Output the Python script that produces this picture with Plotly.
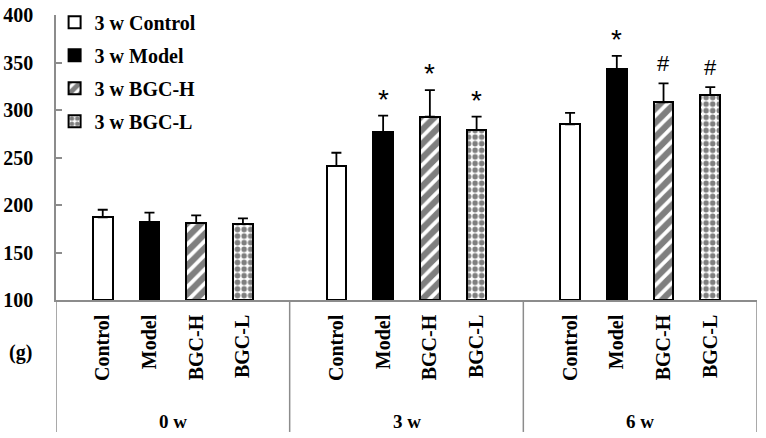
import plotly.graph_objects as go

groups = ["0 w", "3 w", "6 w"]
treatments = ["Control", "Model", "BGC-H", "BGC-L"]
legend_names = ["3 w Control", "3 w Model", "3 w BGC-H", "3 w BGC-L"]

# mean body weight (g) per treatment, one value per group (0 w, 3 w, 6 w)
control_mean = [187, 241, 285]
model_mean = [182, 277, 343]
bgch_mean = [181, 293, 308]
bgcl_mean = [180, 279, 316]

control_err = [8, 14, 12]
model_err = [10, 17, 14]
bgch_err = [8, 28, 20]
bgcl_err = [6, 14, 8]

control_sig = ["", "", ""]
model_sig = ["", "*", "*"]
bgch_sig = ["", "*", "#"]
bgcl_sig = ["", "*", "#"]

y_ticks = [100, 150, 200, 250, 300, 350, 400]

means = [control_mean, model_mean, bgch_mean, bgcl_mean]
errs = [control_err, model_err, bgch_err, bgcl_err]
sigs = [control_sig, model_sig, bgch_sig, bgcl_sig]

SLOTS = 5  # slots per group on the numeric x axis
def xpos(g, i):
    return g * SLOTS + 1 + i

styles = [
    dict(color="white", pattern=dict(shape="")),
    dict(color="black", pattern=dict(shape="")),
    dict(color="white", pattern=dict(shape="/", fgcolor="black", bgcolor="white", size=10, solidity=0.62)),
    dict(color="white", pattern=dict(shape=".", fgcolor="black", bgcolor="white", size=6.6, solidity=0.55)),
]

SERIF = "Liberation Serif"
fig = go.Figure()
for i, t in enumerate(treatments):
    xs = [xpos(g, i) for g in range(len(groups))]
    fig.add_trace(go.Bar(
        x=xs, y=[m - 100 for m in means[i]], base=100,
        name=legend_names[i], legendgroup=legend_names[i],
        width=0.42,
        marker=dict(color=styles[i]["color"], pattern=styles[i]["pattern"],
                    line=dict(color="black", width=2)),
        error_y=dict(type="data", symmetric=False, array=errs[i],
                     arrayminus=[0] * len(groups), color="black",
                     thickness=1.8, width=5),
    ))
    for g in range(len(groups)):
        s = sigs[i][g]
        if s:
            fig.add_annotation(
                x=xpos(g, i), y=means[i][g] + errs[i][g], text=s,
                showarrow=False, yanchor="bottom",
                yshift=-1 if s == "*" else 5,
                font=dict(family="Liberation Sans", size=28 if s == "*" else 22, color="black"),
            )

# category tick labels
tickvals = [xpos(g, i) for g in range(len(groups)) for i in range(len(treatments))]
ticktext = [treatments[i] for g in range(len(groups)) for i in range(len(treatments))]

# group labels and separators
for g, name in enumerate(groups):
    fig.add_annotation(x=g * SLOTS + SLOTS / 2, y=-0.428, xref="x", yref="paper",
                       text="<b>%s</b>" % name, showarrow=False, yanchor="middle",
                       font=dict(family=SERIF, size=19, color="black"))
for g in range(len(groups) + 1):
    fig.add_shape(type="line", xref="x", yref="paper", x0=g * SLOTS, x1=g * SLOTS,
                  y0=0, y1=-0.463, line=dict(color="#8c8c8c", width=1.5))

fig.add_annotation(x=0, y=-0.232, xref="paper", yref="paper", xanchor="right",
                   xshift=-22, text="<b>(g)</b>", showarrow=False,
                   font=dict(family=SERIF, size=20, color="black"))

fig.update_layout(
    width=766, height=438,
    margin=dict(l=56, r=9, t=15, b=138, autoexpand=False),
    paper_bgcolor="white", plot_bgcolor="white",
    showlegend=True,
    legend=dict(x=-0.002, y=1.043, xanchor="left", yanchor="top",
                font=dict(family=SERIF, size=20, color="black", weight="bold"),
                bgcolor="rgba(0,0,0,0)", tracegroupgap=4,
                itemsizing="constant"),
    xaxis=dict(range=[0, len(groups) * SLOTS], tickvals=tickvals,
               ticktext=["<b>%s</b>" % t for t in ticktext],
               tickangle=-90, ticks="", showgrid=False, zeroline=False,
               showline=True, linecolor="#8c8c8c", linewidth=1.5,
               ticklabelstandoff=5, automargin=False,
               tickfont=dict(family=SERIF, size=20, color="black")),
    yaxis=dict(range=[100, 400], tickvals=y_ticks,
               ticktext=["<b>%d</b>" % v for v in y_ticks],
               ticks="inside", ticklen=6, tickcolor="#8c8c8c", tickwidth=1.5,
               showgrid=False, zeroline=False,
               showline=True, linecolor="#8c8c8c", linewidth=1.5,
               ticklabelstandoff=17, automargin=False,
               tickfont=dict(family=SERIF, size=20, color="black")),
    bargap=0,
)

fig.write_html("out.html", config={"displayModeBar": False},
               post_script="document.body.style.margin='0px';document.body.style.padding='0px';")
